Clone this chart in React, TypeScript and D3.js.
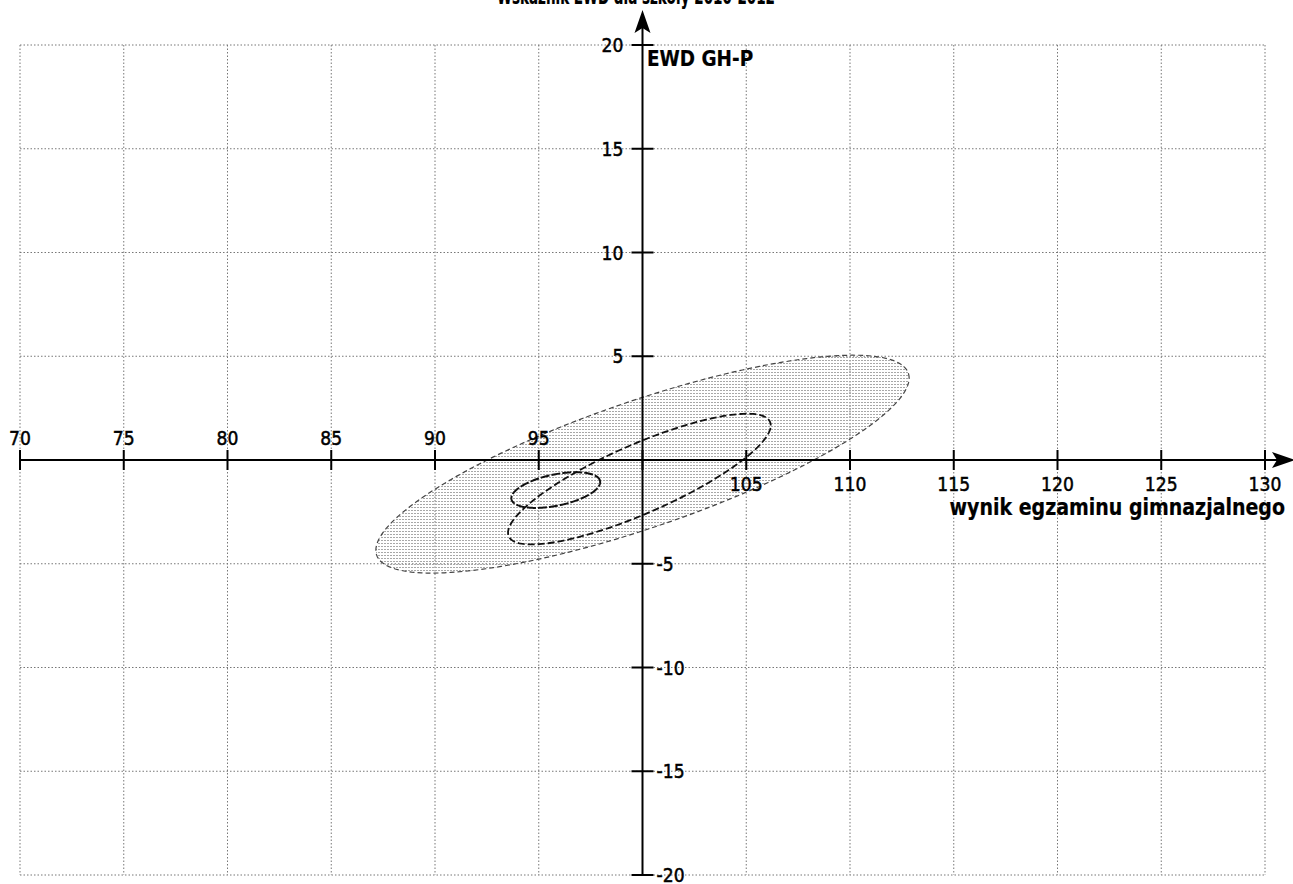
import React from "react";
import * as d3 from "d3";

const titleText = "Wskaźnik EWD dla szkoły 2010-2012";
const xAxisLabel = "wynik egzaminu gimnazjalnego";
const yAxisLabel = "EWD GH-P";
const xTicks = [70, 75, 80, 85, 90, 95, 100, 105, 110, 115, 120, 125, 130];
const yTicks = [-20, -15, -10, -5, 0, 5, 10, 15, 20];

// ellipses: outer, middle, inner
const ellipseCx = [100.0, 99.85, 95.82];
const ellipseCy = [-0.2, -0.92, -1.45];
const ellipseRx = [12.85, 6.33, 2.14];
const ellipseRy = [5.25, 3.15, 0.86];
const ellipseRho = [0.79, 0.82, 0.45];

const W = 1293;
const H = 884;
const SY = 1.17;
const FONT = "'DejaVu Sans', Verdana, sans-serif";

function Label(props: {
  x: number;
  y: number;
  anchor?: string;
  bold?: boolean;
  size?: number;
  len?: number;
  children: any;
}) {
  const { x, y, anchor = "start", bold = false, size = 17.2, len, children } = props;
  return (
    <text
      transform={`translate(${x},${y}) scale(1,${SY})`}
      textAnchor={anchor}
      fontFamily={FONT}
      fontWeight={bold ? "bold" : "normal"}
      fontSize={size}
      fill="#000"
      stroke="#000"
      strokeWidth={bold ? 0.2 : 0.45}
      {...(len ? { textLength: len, lengthAdjust: "spacingAndGlyphs" } : {})}
    >
      {children}
    </text>
  );
}

export default function App() {
  const x = d3.scaleLinear().domain([70, 130]).range([20, 1265]);
  const y = d3.scaleLinear().domain([-20, 20]).range([875, 45]);

  const ellipsePath = (i: number) => {
    const ts = d3.range(0, 361, 2).map((d) => (d * Math.PI) / 180);
    const rho = ellipseRho[i];
    const pts: [number, number][] = ts.map((t) => [
      x(ellipseCx[i] + ellipseRx[i] * Math.cos(t)),
      y(ellipseCy[i] + ellipseRy[i] * (rho * Math.cos(t) + Math.sqrt(1 - rho * rho) * Math.sin(t))),
    ]);
    return d3.line().curve(d3.curveLinearClosed)(pts) || "";
  };

  const x0 = x(100);
  const y0 = y(0);
  const gridColor = "#777";

  return (
    <svg
      width={W}
      height={H}
      style={{ position: "absolute", left: 0, top: 0, background: "#fff" }}
    >
      <defs>
        <pattern id="stip" width="3" height="3" patternUnits="userSpaceOnUse">
          <rect x="0" y="0" width="2" height="1" fill="#a8a8a8" />
        </pattern>
      </defs>
      <rect x={0} y={0} width={W} height={H} fill="#fff" />

      {/* title (mostly cut off at top) */}
      <Label x={636} y={4} anchor="middle" bold size={19} len={278}>
        {titleText}
      </Label>

      {/* grid */}
      <g stroke={gridColor} strokeWidth={1} strokeDasharray="1.5,2">
        {xTicks.map((t) => (
          <line key={"gx" + t} x1={x(t)} x2={x(t)} y1={y(20)} y2={y(-20)} />
        ))}
        {yTicks.map((t) => (
          <line key={"gy" + t} x1={x(70)} x2={x(130)} y1={y(t)} y2={y(t)} />
        ))}
      </g>

      {/* ellipses */}
      <path d={ellipsePath(0)} fill="url(#stip)" stroke="#444" strokeWidth={1.2} strokeDasharray="5,3" />
      <path d={ellipsePath(1)} fill="url(#stip)" stroke="#111" strokeWidth={1.8} strokeDasharray="7,3" />
      <path d={ellipsePath(2)} fill="none" stroke="#111" strokeWidth={2} strokeDasharray="9,2" />

      {/* axes */}
      <g stroke="#000" strokeWidth={2}>
        <line x1={x(70)} x2={1280} y1={y0} y2={y0} />
        <line x1={x0} x2={x0} y1={y(-20)} y2={25} />
        {xTicks.map((t) => (
          <line key={"tx" + t} x1={x(t)} x2={x(t)} y1={y0 - 10} y2={y0 + 10} />
        ))}
        {yTicks.map((t) => (
          <line key={"ty" + t} x1={x0 - 11} x2={x0 + 11} y1={y(t)} y2={y(t)} />
        ))}
      </g>
      {/* arrow heads */}
      <path d={`M${x0},10 L${x0 + 8},33 L${x0},28 L${x0 - 8},33 Z`} fill="#000" />
      <path d={`M1295,${y0} L1272,${y0 - 8} L1277,${y0} L1272,${y0 + 8} Z`} fill="#000" />

      {/* x tick labels */}
      {xTicks
        .filter((t) => t !== 100)
        .map((t) => (
          <Label key={"lx" + t} x={x(t)} y={t < 100 ? y0 - 15 : y0 + 31} anchor="middle">
            {String(t)}
          </Label>
        ))}

      {/* y tick labels */}
      {yTicks
        .filter((t) => t !== 0)
        .map((t) =>
          t > 0 ? (
            <Label key={"ly" + t} x={x0 - 19} y={y(t) + 7} anchor="end">
              {String(t)}
            </Label>
          ) : (
            <Label key={"ly" + t} x={x0 + 14} y={y(t) + 7} anchor="start">
              {String(t)}
            </Label>
          )
        )}

      {/* axis labels */}
      <Label x={647} y={66} bold size={18.4}>
        {yAxisLabel}
      </Label>
      <Label x={1285} y={515} anchor="end" bold size={19}>
        {xAxisLabel}
      </Label>
    </svg>
  );
}
